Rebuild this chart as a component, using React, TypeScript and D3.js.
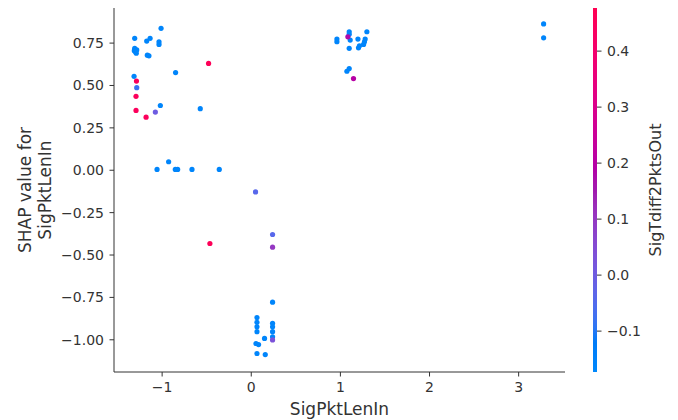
import React from "react";
import * as d3 from "d3";

// Feature value (SigPktLenIn)
const xValues = [
  -1.012, -1.308, -1.173, -1.135, -1.035, -1.035, -1.308, -1.297, -1.285, -1.312, -1.29,
  -1.166, -1.148, -0.479, -0.849, -1.315, -1.288, -1.285, -1.293, -1.293, -1.02, -1.076,
  -1.18, -0.572,
  -1.057, -0.927, -0.852, -0.826, -0.665, -0.359,
  0.048, 0.239, 0.239, -0.464,
  0.239, 0.064, 0.064, 0.064, 0.064, 0.239, 0.239, 0.239, 0.239, 0.239, 0.149, 0.053, 0.082,
  0.064, 0.157,
  0.961, 0.961, 1.099, 1.084, 1.099, 1.11, 1.099, 1.197, 1.297, 1.278, 1.27, 1.26, 1.214,
  1.203, 1.099, 1.073, 1.147,
  3.28, 3.28,
];

// SHAP value for SigPktLenIn
const yValues = [
  0.837, 0.778, 0.762, 0.778, 0.758, 0.742, 0.719, 0.698, 0.71, 0.705, 0.69,
  0.679, 0.675, 0.63, 0.576, 0.554, 0.526, 0.487, 0.436, 0.353, 0.382, 0.343,
  0.313, 0.363,
  0.005, 0.05, 0.005, 0.005, 0.005, 0.005,
  -0.128, -0.379, -0.454, -0.432,
  -0.778, -0.869, -0.897, -0.923, -0.952, -0.903, -0.923, -0.952, -0.982, -1.001, -0.992, -1.022, -1.028,
  -1.081, -1.087,
  0.774, 0.758, 0.817, 0.787, 0.802, 0.768, 0.719, 0.774, 0.817, 0.774, 0.758, 0.742, 0.734,
  0.722, 0.6, 0.584, 0.541,
  0.863, 0.781,
];

// Interaction feature value (SigTdiff2PktsOut)
const colorValues = [
  -0.16, -0.16, -0.16, -0.16, -0.16, -0.16, -0.16, -0.16, -0.16, -0.16, -0.16,
  -0.16, -0.16, 0.46, -0.16, -0.16, 0.45, -0.08, 0.45, 0.45, -0.16, 0.0,
  0.45, -0.16,
  -0.16, -0.16, -0.16, -0.16, -0.16, -0.16,
  -0.04, -0.04, 0.1, 0.46,
  -0.16, -0.16, -0.16, -0.16, -0.16, -0.16, -0.16, -0.16, -0.16, 0.03, -0.16, -0.16, -0.16,
  -0.16, -0.16,
  -0.16, -0.16, -0.16, 0.18, -0.16, -0.16, -0.16, -0.16, -0.16, -0.16, -0.16, -0.16, -0.16,
  -0.16, -0.16, -0.16, 0.2,
  -0.16, -0.16,
];

const xTicks = [-1, 0, 1, 2, 3];
const yTicks = [0.75, 0.5, 0.25, 0, -0.25, -0.5, -0.75, -1.0];
const cTicks = [0.4, 0.3, 0.2, 0.1, 0.0, -0.1];

const xLabel = "SigPktLenIn";
const yLabel1 = "SHAP value for";
const yLabel2 = "SigPktLenIn";
const cLabel = "SigTdiff2PktsOut";

const W = 678;
const H = 420;
const FONT = "'DejaVu Sans', sans-serif";
const AXIS = "#333333";

const fmtMinus = (s: string) => s.replace("-", "\u2212");

// SHAP red_blue colormap: LCH interpolation with a lightness dip in the middle
const BLUE_LCH = [54, 70, 4.6588];
const L_MID = 40;
const RED_LCH = [54, 90, 0.35470565 + 2 * Math.PI];
function redBlue(t: number): string {
  const tt = Math.max(0, Math.min(1, t));
  const l = tt < 0.5 ? BLUE_LCH[0] + (L_MID - BLUE_LCH[0]) * (tt / 0.5)
    : L_MID + (RED_LCH[0] - L_MID) * ((tt - 0.5) / 0.5);
  const c = BLUE_LCH[1] + (RED_LCH[1] - BLUE_LCH[1]) * tt;
  const h = BLUE_LCH[2] + (RED_LCH[2] - BLUE_LCH[2]) * tt;
  return d3.hcl((h * 180) / Math.PI, c, l).formatHex();
}

export default function App() {
  const left = 114, right = 565, top = 8, bottom = 372;
  const x = d3.scaleLinear().domain([-1.54, 3.52]).range([left, right]);
  const y = d3.scaleLinear().domain([-1.19, 0.957]).range([bottom, top]);
  const cDomain: [number, number] = [-0.173, 0.477];
  const cNorm = d3.scaleLinear().domain(cDomain).range([0, 1]);
  const color = (v: number) => redBlue(cNorm(v));
  const cy = d3.scaleLinear().domain(cDomain).range([bottom, top]);
  const barX = 593, barW = 4;

  const stops = d3.range(0, 1.0001, 0.02);
  const pts = xValues.map((v, i) => ({ x: v, y: yValues[i], c: colorValues[i] }));
  const order = pts.slice().sort((a, b) => a.c - b.c);

  return (
    <svg width={W} height={H} style={{ display: "block", position: "absolute", left: 0, top: 0 }}
      fontFamily={FONT}>
      <defs>
        <linearGradient id="cbar" x1="0" y1="1" x2="0" y2="0">
          {stops.map((t, i) => (
            <stop key={i} offset={t} stopColor={redBlue(t)} />
          ))}
        </linearGradient>
      </defs>
      <rect width={W} height={H} fill="#fff" />
      {order.map((p, i) => (
        <circle key={i} cx={x(p.x)} cy={y(p.y)} r={2.6} fill={color(p.c)} />
      ))}
      <line x1={left} x2={left} y1={top} y2={bottom} stroke={AXIS} strokeWidth={1} />
      <line x1={left} x2={right} y1={bottom} y2={bottom} stroke={AXIS} strokeWidth={1} />
      {xTicks.map((t) => (
        <g key={t} transform={`translate(${x(t)},${bottom})`}>
          <line y1={0} y2={4.5} stroke={AXIS} />
          <text y={20} textAnchor="middle" fontSize={14} fill={AXIS}>
            {fmtMinus(d3.format("d")(t))}
          </text>
        </g>
      ))}
      {yTicks.map((t) => (
        <g key={t} transform={`translate(${left},${y(t)})`}>
          <line x1={-4.5} x2={0} stroke={AXIS} />
          <text x={-10} dy="0.35em" textAnchor="end" fontSize={14} fill={AXIS}>
            {fmtMinus(d3.format(".2f")(t))}
          </text>
        </g>
      ))}
      <text x={(left + right) / 2} y={415} textAnchor="middle" fontSize={17} fill={AXIS}>
        {xLabel}
      </text>
      <text transform={`translate(31,${(top + bottom) / 2}) rotate(-90)`} textAnchor="middle"
        fontSize={17} fill={AXIS}>
        <tspan x={0} dy={0}>{yLabel1}</tspan>
        <tspan x={0} dy={20}>{yLabel2}</tspan>
      </text>
      <rect x={barX} y={top} width={barW} height={bottom - top} fill="url(#cbar)" />
      {cTicks.map((t) => (
        <g key={t} transform={`translate(${barX + barW},${cy(t)})`}>
          <line x1={0} x2={4.5} stroke={AXIS} />
          <text x={10} dy="0.35em" textAnchor="start" fontSize={14} fill={AXIS}>
            {fmtMinus(d3.format(".1f")(t))}
          </text>
        </g>
      ))}
      <text transform={`translate(661,${(top + bottom) / 2}) rotate(-90)`} textAnchor="middle"
        fontSize={16} fill={AXIS}>
        {cLabel}
      </text>
    </svg>
  );
}
